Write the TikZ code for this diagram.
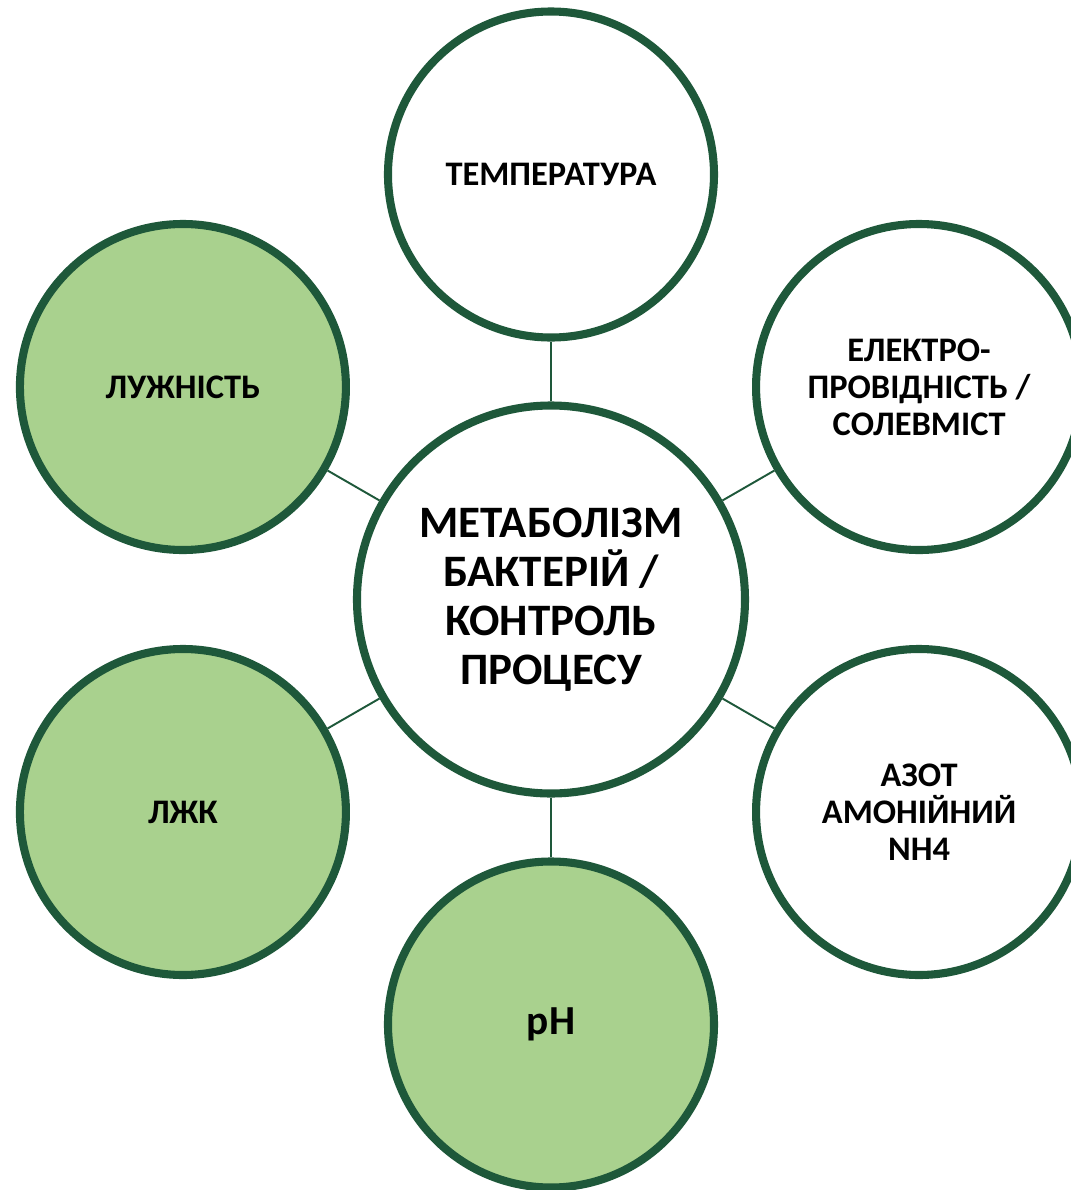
\documentclass[tikz,border=0pt]{standalone}
\usepackage{fontspec}
\setmainfont{Carlito}
\definecolor{ringgreen}{RGB}{30,88,58}
\definecolor{leafgreen}{RGB}{169,209,142}
\begin{document}
\begin{tikzpicture}[every node/.style={font=\bfseries, align=center},
  ring/.style={circle, draw=ringgreen, line width=4.6pt, fill=white, minimum size=6.52cm, inner sep=0pt,
    font=\bfseries\fontsize{19.6}{21}\selectfont},
  greenring/.style={ring, fill=leafgreen},
  hub/.style={ring, minimum size=7.76cm, font=\bfseries\fontsize{25.6}{28}\selectfont},
  link/.style={draw=ringgreen, line width=1.1pt}]
\useasboundingbox (-11.02,-11.81) rectangle (10.40,11.99);
\clip (-11.02,-11.81) rectangle (10.40,11.99);
\node (hub) [hub] at (0,0) {МЕТАБОЛІЗМ\\БАКТЕРІЙ /\\КОНТРОЛЬ\\ПРОЦЕСУ};
\node (temp) [ring] at (90:8.5) {ТЕМПЕРАТУРА};
\node (cond) [ring] at (30:8.5) {ЕЛЕКТРО-\\ПРОВІДНІСТЬ /\\СОЛЕВМІСТ};
\node (nh) [ring] at (-30:8.5) {АЗОТ\\АМОНІЙНИЙ\\NH4};
\node (ph) [greenring, font=\bfseries\fontsize{23.5}{26}\selectfont] at (-90:8.5) {pH};
\node (vfa) [greenring] at (-150:8.5) {ЛЖК};
\node (alk) [greenring] at (150:8.5) {ЛУЖНІСТЬ};
\draw[link] (hub) -- (temp);
\draw[link] (hub) -- (cond);
\draw[link] (hub) -- (nh);
\draw[link] (hub) -- (ph);
\draw[link] (hub) -- (vfa);
\draw[link] (hub) -- (alk);
\end{tikzpicture}
\end{document}
